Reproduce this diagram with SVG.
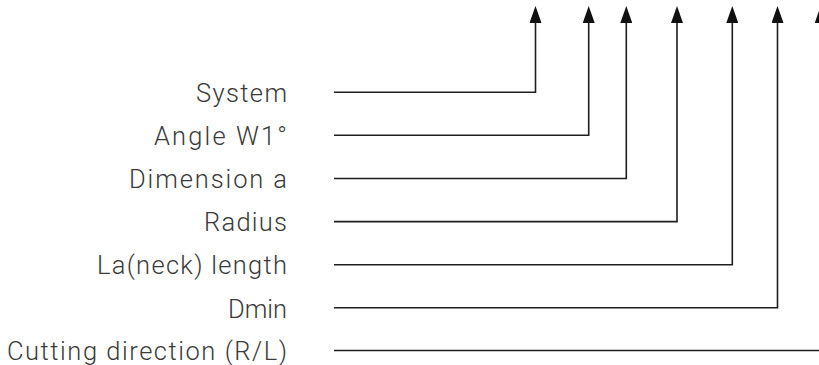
<svg xmlns="http://www.w3.org/2000/svg" width="819" height="365" viewBox="0 0 819 365">
<style>
.lbl{font-family:Roboto,"Liberation Sans",Arial,sans-serif;font-weight:300;font-size:25.5px;fill:#3a3a3a;text-anchor:end}
.con{fill:none;stroke:#1e1e1e;stroke-width:1.6;marker-end:url(#ah)}
</style>
<defs>
<marker id="ah" markerUnits="userSpaceOnUse" markerWidth="17" markerHeight="12" refX="9" refY="6" orient="auto" viewBox="0 0 17 12">
<path d="M0,0 L17,6 L0,12 z" fill="#111"/>
</marker>
</defs>
<rect width="819" height="365" fill="#fff"/>
<g id="connectors">
<path class="con" d="M334,92.3 H535.5 V14"/>
<path class="con" d="M334,135.3 H588.7 V14"/>
<path class="con" d="M334,178.5 H626.3 V14"/>
<path class="con" d="M334,221.6 H677 V14"/>
<path class="con" d="M334,264.7 H732.3 V14"/>
<path class="con" d="M334,307.8 H777.5 V14"/>
<path class="con" d="M334,350.5 H820.7 V14"/>
</g>
<g id="n-system"><text class="lbl" x="287" y="102" textLength="91" lengthAdjust="spacing">System</text></g>
<g id="n-angle"><text class="lbl" x="287" y="145" textLength="133" lengthAdjust="spacing">Angle W1°</text></g>
<g id="n-dimension"><text class="lbl" x="287" y="188.2" textLength="158" lengthAdjust="spacing">Dimension a</text></g>
<g id="n-radius"><text class="lbl" x="287" y="231.3" textLength="83" lengthAdjust="spacing">Radius</text></g>
<g id="n-la"><text class="lbl" x="287" y="274.4" textLength="190" lengthAdjust="spacing">La(neck) length</text></g>
<g id="n-dmin"><text class="lbl" x="287" y="317.5" textLength="59" lengthAdjust="spacing">Dmin</text></g>
<g id="n-cutting"><text class="lbl" x="287" y="360.2" textLength="280" lengthAdjust="spacing">Cutting direction (R/L)</text></g>
</svg>
